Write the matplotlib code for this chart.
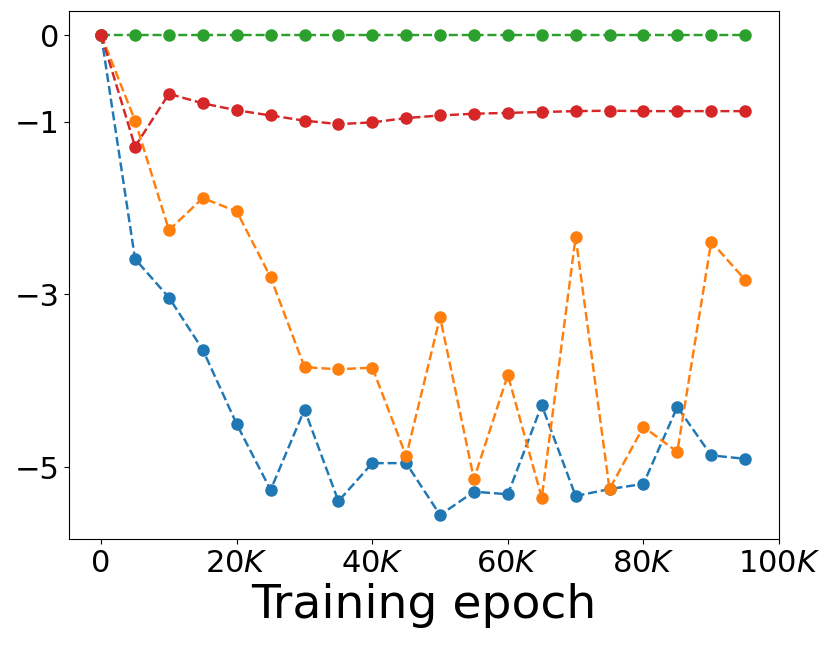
import numpy as np
import matplotlib
matplotlib.use("Agg")
import matplotlib.pyplot as plt

epochs = np.arange(0, 100000, 5000)

blue = [0, -2.59, -3.035, -3.64, -4.50, -5.26, -4.33, -5.39, -4.95, -4.95,
        -5.55, -5.28, -5.31, -4.28, -5.33, -5.25, -5.19, -4.30, -4.86, -4.90]
orange = [0, -0.99, -2.255, -1.885, -2.04, -2.80, -3.84, -3.865, -3.845, -4.87,
          -3.26, -5.135, -3.93, -5.35, -2.335, -5.25, -4.53, -4.82, -2.39, -2.83]
green = [0] * 20
red = [0, -1.29, -0.68, -0.79, -0.87, -0.93, -0.99, -1.03, -1.01, -0.96,
       -0.93, -0.91, -0.90, -0.89, -0.88, -0.875, -0.88, -0.88, -0.88, -0.88]

xticks = [0, 20000, 40000, 60000, 80000, 100000]
xticklabels = ['0', '20$K$', '40$K$', '60$K$', '80$K$', '100$K$']
yticks = [0, -1, -3, -5]

fig = plt.figure(figsize=(8.31, 6.45), dpi=100)
ax = fig.add_axes([0.083, 0.1643, 0.8544, 0.8186])

for ys, c in zip([blue, orange, green, red], ['C0', 'C1', 'C2', 'C3']):
    ax.plot(epochs, ys, '--o', color=c, markersize=8, linewidth=1.75)

ax.set_xlim(-4750, 100000)
ax.set_xticks(xticks)
ax.set_xticklabels(xticklabels)
ax.set_yticks(yticks)
ax.tick_params(labelsize=22)
ax.set_xlabel('Training epoch', fontsize=34)

fig.savefig('out.png', dpi=100)
